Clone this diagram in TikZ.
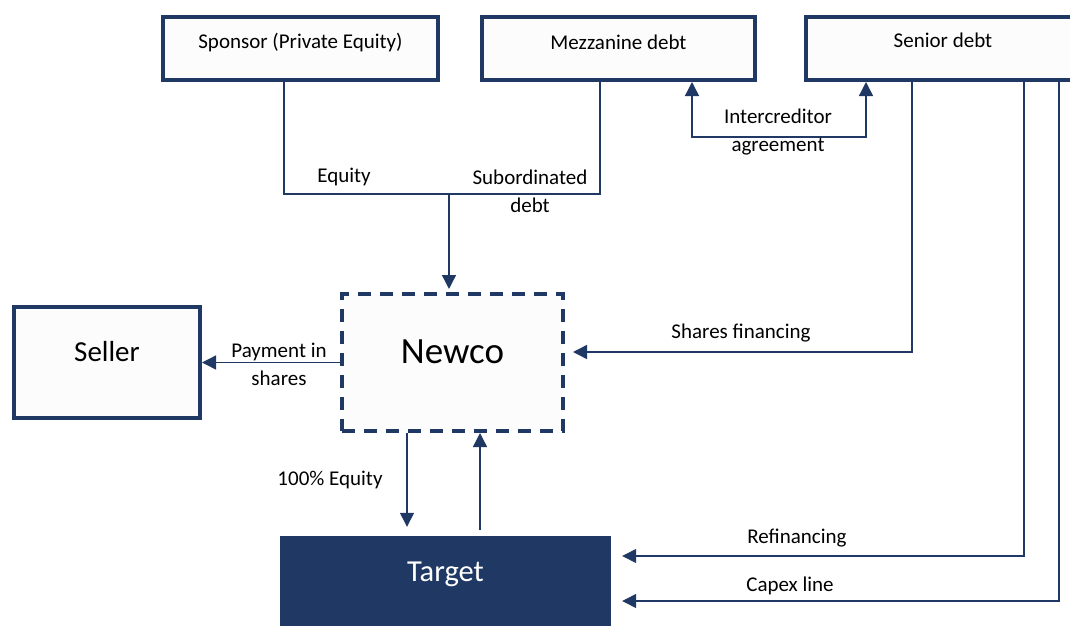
\documentclass[tikz,border=0pt]{standalone}
\usepackage{fontspec}
\setmainfont{Carlito}
\usetikzlibrary{arrows.meta,positioning}
\definecolor{navy}{RGB}{31,56,100}
\definecolor{boxfill}{RGB}{252,252,252}
\tikzset{
  box/.style={draw=navy, line width=4pt, fill=boxfill, inner sep=0pt},
  dashbox/.style={box, dash pattern=on 13pt off 9pt},
  link/.style={draw=navy, line width=1.4pt},
  arrow/.style={link, -{Triangle[length=14pt,width=14pt]}},
  twoway/.style={link, {Triangle[length=14pt,width=14pt]}-{Triangle[length=14pt,width=14pt]}},
  lbl/.style={font=\fontsize{21}{28}\selectfont, align=center, inner sep=0pt},
}

\begin{document}
\begin{tikzpicture}[x=1pt,y=1pt]
\useasboundingbox (0,0) rectangle (1070,-626);
\clip (0,0) rectangle (1070,-626);

% funding parties
\node[box, minimum width=275pt, minimum height=63pt,
  label={[lbl,yshift=6pt]center:Sponsor (Private Equity)}] (sponsor) at (300.5,-48.5) {};
\node[box, minimum width=273pt, minimum height=63pt,
  label={[lbl,yshift=6pt]center:Mezzanine debt}] (mezz) at (618.5,-48.5) {};
\node[box, minimum width=274pt, minimum height=63pt,
  label={[lbl,yshift=8pt]center:Senior debt}] (senior) at (943,-48.5) {};

% deal companies
\node[box, minimum width=186pt, minimum height=111pt,
  label={[lbl,font=\fontsize{29}{34}\selectfont,yshift=10.5pt]center:Seller}] (seller) at (107,-362.5) {};
\node[dashbox, minimum width=221pt, minimum height=137pt,
  label={[lbl,font=\fontsize{37}{42}\selectfont,yshift=10.5pt]center:Newco}] (newco) at (452.5,-362.5) {};
\node[fill=navy, inner sep=0pt, minimum width=331pt, minimum height=90pt,
  label={[lbl,text=white,font=\fontsize{30.5}{36}\selectfont,yshift=7pt]center:Target}] (target) at (445.5,-581) {};

% equity and subordinated debt into newco
\coordinate (fund) at (449,-194);
\draw[link] ([xshift=-16.5pt]sponsor.south) |- (fund) -| ([xshift=-18.5pt]mezz.south);
\draw[arrow, shorten >=3pt] (fund) -- (fund |- newco.north);
\node[lbl] (equity) at (344,-177) {Equity};
\node[lbl] (subdebt) at (530,-191) {Subordinated\\debt};

% intercreditor
\coordinate (icr) at (779,-137);
\draw[twoway] ([xshift=73.5pt]mezz.south) |- (icr) -| ([xshift=-77pt]senior.south);
\node[lbl] (icrlbl) at (778,-132) {Intercreditor\\agreement};

% senior lines
\draw[arrow, shorten >=8pt] ([xshift=-31pt]senior.south) |- ([yshift=10.5pt]newco.east);
\node[lbl] (sharesfin) at (741,-333) {Shares financing};
\draw[arrow, shorten >=11pt] ([xshift=81pt]senior.south) |- ([yshift=25pt]target.east);
\node[lbl] (refin) at (797,-538) {Refinancing};
\draw[arrow, shorten >=11pt] ([xshift=116pt]senior.south) |- ([yshift=-20pt]target.east);
\node[lbl] (capex) at (790,-586) {Capex line};

% newco to seller
\draw[arrow] (newco.west) -- (newco.west -| seller.east);
\node[lbl] (payment) at (279,-364) {Payment in\\shares};

% newco and target
\coordinate (eqdown) at ([xshift=-45.5pt]newco.south);
\coordinate (equp) at ([xshift=27.5pt]newco.south);
\draw[arrow, shorten >=9pt] (eqdown) -- (eqdown |- target.north);
\draw[arrow, shorten <=6pt] (equp |- target.north) -- (equp);
\node[lbl] (fullequity) at (330,-480) {100\% Equity};
\end{tikzpicture}
\end{document}
